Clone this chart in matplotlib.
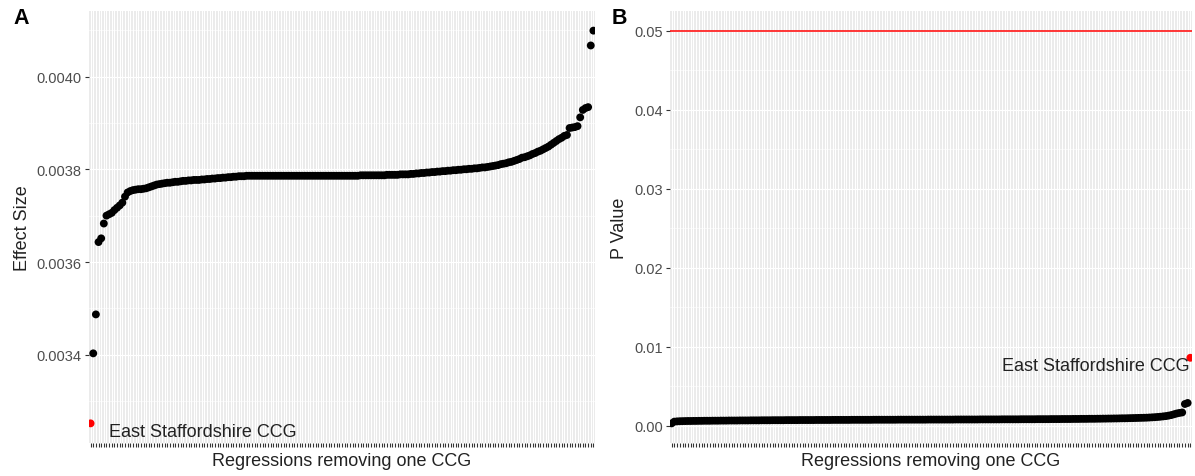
import matplotlib
matplotlib.use("Agg")
import matplotlib.pyplot as plt
import numpy as np

plt.rcParams['font.family'] = ['Liberation Sans', 'DejaVu Sans']

# sorted effect size from each leave-one-CCG-out regression (first = East Staffordshire removed)
effect_size = [
    0.003252, 0.003403, 0.003487, 0.003643, 0.003651, 0.003683, 0.003700, 0.003703, 0.003706, 0.003712,
    0.003717, 0.003722, 0.003728, 0.003741, 0.003750, 0.003753, 0.003755, 0.003756, 0.003757, 0.003757,
    0.003758, 0.003759, 0.003761, 0.003763, 0.003765, 0.003767, 0.003768, 0.003769, 0.003770, 0.003771,
    0.003771, 0.003772, 0.003773, 0.003773, 0.003774, 0.003775, 0.003775, 0.003776, 0.003776, 0.003777,
    0.003777, 0.003777, 0.003778, 0.003778, 0.003779, 0.003779, 0.003780, 0.003780, 0.003781, 0.003781,
    0.003782, 0.003782, 0.003783, 0.003783, 0.003784, 0.003784, 0.003785, 0.003785, 0.003785, 0.003786,
    0.003786, 0.003786, 0.003786, 0.003786, 0.003786, 0.003786, 0.003786, 0.003786, 0.003786, 0.003786,
    0.003786, 0.003786, 0.003786, 0.003786, 0.003786, 0.003786, 0.003786, 0.003786, 0.003786, 0.003786,
    0.003786, 0.003786, 0.003786, 0.003786, 0.003786, 0.003786, 0.003786, 0.003786, 0.003786, 0.003786,
    0.003786, 0.003786, 0.003786, 0.003786, 0.003786, 0.003786, 0.003786, 0.003786, 0.003786, 0.003786,
    0.003786, 0.003786, 0.003787, 0.003787, 0.003787, 0.003787, 0.003787, 0.003787, 0.003787, 0.003787,
    0.003787, 0.003787, 0.003788, 0.003788, 0.003788, 0.003788, 0.003788, 0.003789, 0.003789, 0.003789,
    0.003789, 0.003790, 0.003790, 0.003791, 0.003791, 0.003792, 0.003792, 0.003793, 0.003793, 0.003794,
    0.003794, 0.003795, 0.003795, 0.003796, 0.003796, 0.003797, 0.003797, 0.003798, 0.003798, 0.003799,
    0.003799, 0.003800, 0.003800, 0.003801, 0.003801, 0.003802, 0.003802, 0.003803, 0.003804, 0.003804,
    0.003805, 0.003806, 0.003807, 0.003808, 0.003809, 0.003811, 0.003812, 0.003813, 0.003815, 0.003816,
    0.003818, 0.003820, 0.003822, 0.003825, 0.003826, 0.003828, 0.003830, 0.003833, 0.003835, 0.003838,
    0.003840, 0.003843, 0.003846, 0.003849, 0.003853, 0.003857, 0.003861, 0.003865, 0.003868, 0.003872,
    0.003874, 0.003889, 0.003890, 0.003891, 0.003893, 0.003912, 0.003928, 0.003932, 0.003934, 0.004067,
    0.004099,
]

# sorted p values (last = East Staffordshire removed)
p_value = [
    0.00030, 0.00052, 0.00055, 0.00057, 0.00058, 0.00059, 0.00060, 0.00060, 0.00061, 0.00061,
    0.00062, 0.00062, 0.00063, 0.00063, 0.00063, 0.00064, 0.00064, 0.00064, 0.00065, 0.00065,
    0.00065, 0.00066, 0.00066, 0.00066, 0.00066, 0.00067, 0.00067, 0.00067, 0.00067, 0.00068,
    0.00068, 0.00068, 0.00068, 0.00069, 0.00069, 0.00069, 0.00069, 0.00070, 0.00070, 0.00070,
    0.00070, 0.00070, 0.00071, 0.00071, 0.00071, 0.00071, 0.00071, 0.00072, 0.00072, 0.00072,
    0.00072, 0.00072, 0.00072, 0.00073, 0.00073, 0.00073, 0.00073, 0.00073, 0.00073, 0.00074,
    0.00074, 0.00074, 0.00074, 0.00074, 0.00074, 0.00074, 0.00075, 0.00075, 0.00075, 0.00075,
    0.00075, 0.00075, 0.00075, 0.00075, 0.00076, 0.00076, 0.00076, 0.00076, 0.00076, 0.00076,
    0.00076, 0.00076, 0.00076, 0.00077, 0.00077, 0.00077, 0.00077, 0.00077, 0.00077, 0.00077,
    0.00077, 0.00077, 0.00077, 0.00077, 0.00078, 0.00078, 0.00078, 0.00078, 0.00078, 0.00078,
    0.00078, 0.00078, 0.00078, 0.00078, 0.00079, 0.00079, 0.00079, 0.00079, 0.00079, 0.00079,
    0.00079, 0.00079, 0.00079, 0.00080, 0.00080, 0.00080, 0.00080, 0.00080, 0.00080, 0.00080,
    0.00080, 0.00081, 0.00081, 0.00081, 0.00081, 0.00081, 0.00081, 0.00081, 0.00082, 0.00082,
    0.00082, 0.00082, 0.00082, 0.00082, 0.00083, 0.00083, 0.00083, 0.00083, 0.00083, 0.00084,
    0.00084, 0.00084, 0.00084, 0.00085, 0.00085, 0.00085, 0.00085, 0.00086, 0.00086, 0.00086,
    0.00087, 0.00087, 0.00087, 0.00088, 0.00088, 0.00088, 0.00089, 0.00089, 0.00090, 0.00090,
    0.00091, 0.00091, 0.00092, 0.00092, 0.00093, 0.00094, 0.00094, 0.00095, 0.00096, 0.00097,
    0.00098, 0.00099, 0.00100, 0.00101, 0.00102, 0.00104, 0.00106, 0.00108, 0.00111, 0.00114,
    0.00118, 0.00122, 0.00128, 0.00135, 0.00145, 0.00155, 0.00162, 0.00168, 0.00275, 0.00288,
    0.00860,
]

label = "East Staffordshire CCG"
threshold = 0.05

a_ticks = [0.0034, 0.0036, 0.0038, 0.0040]
a_minor = [0.0033, 0.0035, 0.0037, 0.0039, 0.0041]
b_ticks = [0.00, 0.01, 0.02, 0.03, 0.04, 0.05]
b_minor = [0.005, 0.015, 0.025, 0.035, 0.045]

W, H = 1195, 477
fig = plt.figure(figsize=(W / 100, H / 100), dpi=100)

grey_bg = '#EBEBEB'
tick_col = '#4D4D4D'


def panel(rect, y, ticks, minor, fmt):
    ax = fig.add_axes([rect[0] / W, 1 - rect[3] / H, (rect[2] - rect[0]) / W, (rect[3] - rect[1]) / H])
    ax.set_facecolor(grey_bg)
    n = len(y)
    x = np.arange(n)
    for xi in x:
        ax.axvline(xi, color='white', lw=0.75, zorder=0.5)
    for t in minor:
        ax.axhline(t, color='white', lw=0.4, zorder=0.5)
    for t in ticks:
        ax.axhline(t, color='white', lw=0.8, zorder=0.5)
    lo, hi = min(y), max(max(y), max(ticks) if fmt == '%.2f' else max(y))
    ax.set_xlim(-0.6, n - 1 + 0.6)
    ax.set_xticks(x)
    ax.set_xticklabels([])
    ax.set_yticks(ticks)
    ax.set_yticklabels([fmt % t for t in ticks])
    ax.tick_params(axis='both', length=3.2, width=0.8, color='#333333',
                   labelcolor=tick_col, labelsize=10.5, pad=2)
    for s in ax.spines.values():
        s.set_visible(False)
    return ax, x


ax1, x1 = panel((89, 12, 595, 444), effect_size, a_ticks, a_minor, '%.4f')
cols1 = ['red'] + ['black'] * (len(effect_size) - 1)
ax1.scatter(x1, effect_size, s=32, c=cols1, zorder=3, linewidths=0)
rng = max(effect_size) - min(effect_size)
ax1.set_ylim(min(effect_size) - 0.05 * rng, max(effect_size) + 0.05 * rng)
ax1.text(7, effect_size[0] - 0.000018, label, ha='left', va='center',
         fontsize=13, color='#222222', zorder=4)
ax1.set_xlabel("Regressions removing one CCG", fontsize=13, color='#222222', labelpad=1)
ax1.set_ylabel("Effect Size", fontsize=13, color='#222222', labelpad=4)

ax2, x2 = panel((670, 12, 1192, 444), p_value, b_ticks, b_minor, '%.2f')
cols2 = ['black'] * (len(p_value) - 1) + ['red']
ax2.axhline(threshold, color='red', lw=1.1, zorder=2)
ax2.scatter(x2, p_value, s=32, c=cols2, zorder=3, linewidths=0)
lo2, hi2 = min(p_value), threshold
rng2 = hi2 - lo2
ax2.set_ylim(lo2 - 0.05 * rng2, hi2 + 0.05 * rng2)
ax2.text(len(p_value) - 1.3, 0.00767, label, ha='right', va='center',
         fontsize=13, color='#222222', zorder=4)
ax2.set_xlabel("Regressions removing one CCG", fontsize=13, color='#222222', labelpad=1)
ax2.set_ylabel("P Value", fontsize=13, color='#222222', labelpad=4)

fig.text(13 / W, 1 - 18 / H, "A", fontsize=15.5, fontweight='bold', va='center', ha='left')
fig.text(612 / W, 1 - 18 / H, "B", fontsize=15.5, fontweight='bold', va='center', ha='left')

fig.savefig("out.png", dpi=100)
